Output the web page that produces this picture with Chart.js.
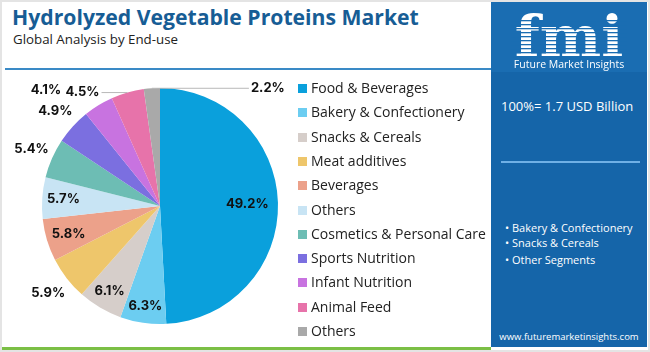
<!DOCTYPE html>
<html>
<head>
<meta charset="utf-8">
<script src="https://cdn.jsdelivr.net/npm/chart.js@4.4.1/dist/chart.umd.min.js"></script>
<style>
  body { margin: 0; background: #fff; font-family: "Open Sans", sans-serif; }
  #frame { position: relative; width: 650px; height: 352px; overflow: hidden; background: #fff; }
  #border { position: absolute; left: 0; top: 0; width: 646px; height: 348px; border: 2px solid #e4e4e4; }
  #title { position: absolute; left: 12px; top: 2px; font-size: 21.2px; font-weight: 700; color: #175d95; white-space: nowrap; }
  #subtitle { position: absolute; left: 13px; top: 30px; font-size: 13.3px; color: #222; white-space: nowrap; }
  #rule { position: absolute; left: 5px; top: 68px; width: 486px; height: 2px; background: #3a8ac6; }
  #green { position: absolute; left: 2px; top: 347px; width: 489px; height: 3px; background: #7bbf45; }
  #chartBox { position: absolute; left: 0; top: 72px; width: 320px; height: 268px; }
  #legend { position: absolute; left: 298px; top: 76px; }
  .item { position: absolute; left: 0; white-space: nowrap; font-size: 14px; color: #222; height: 24px; line-height: 24px; }
  .box { position: absolute; left: 0; top: 8px; width: 9px; height: 9px; }
  .item span.t { position: absolute; left: 13px; top: 0; }
  #panel { position: absolute; left: 491px; top: 2px; width: 156px; height: 345px; background: #1565a9; color: #fff; }
  #logo { position: absolute; left: 0; top: 0; width: 156px; height: 70px; }
  #total { position: absolute; left: 10px; top: 95px; font-size: 13px; white-space: nowrap; }
  #sep { position: absolute; left: 10px; top: 159px; width: 139px; height: 2px; background: #6fb0e6; }
  #bullets { position: absolute; left: 14px; top: 218px; font-size: 11px; line-height: 15px; white-space: nowrap; }
  #url { position: absolute; left: 0; width: 156px; top: 328px; text-align: center; font-size: 9.5px; white-space: nowrap; }
</style>
</head>
<body>
<div id="frame">
  <div id="border"></div>
  <div id="title">Hydrolyzed Vegetable Proteins Market</div>
  <div id="subtitle">Global Analysis by End-use</div>
  <div id="rule"></div>
  <div id="green"></div>
  <div id="chartBox"><canvas id="pieChart"></canvas></div>
  <div id="legend"></div>
  <div id="panel">
    <canvas id="logo" width="156" height="70"></canvas>
    <div id="total">100%= 1.7 USD Billion</div>
    <div id="sep"></div>
    <div id="bullets">
      <div>&bull; Bakery &amp; Confectionery</div>
      <div>&bull; Snacks &amp; Cereals</div>
      <div style="margin-top:2px">&bull; Other Segments</div>
    </div>
    <div id="url">www.futuremarketinsights.com</div>
  </div>
</div>
<script>
// chart data
const segments = [
  "Food & Beverages",
  "Bakery & Confectionery",
  "Snacks & Cereals",
  "Meat additives",
  "Beverages",
  "Others",
  "Cosmetics & Personal Care",
  "Sports Nutrition",
  "Infant Nutrition",
  "Animal Feed",
  "Others",
]
const shares = [49.2, 6.3, 6.1, 5.9, 5.8, 5.7, 5.4, 4.9, 4.1, 4.5, 2.2]
const colors = [
  "#0aa0dc", "#6ccdf1", "#d6ceca", "#eec66b", "#eca18a", "#c8e4f4",
  "#6dbdb4", "#7b6fe0", "#c873e0", "#e773aa", "#a9a9a9",
]

// label placement relative to each slice (radius factor, angle shift in deg, horizontal leader px)
const labelRadius = [0.74, 0.86, 0.84, 1.2, 0.81, 0.82, 1.19, 1.2, 1.38, 1.0, 1.0]
const labelShift = [0, 0, 0, 0, 0, 0, 0, 0, -13, 0, 0]
const labelLeader = [0, 0, 0, 0, 0, 0, 0, 0, 0, -45, 116]

// build the legend
const legend = document.getElementById("legend")
segments.forEach((name, i) => {
  const row = document.createElement("div")
  row.className = "item"
  row.style.top = (i * 24.3) + "px"
  row.innerHTML = '<div class="box" style="background:' + colors[i] + '"></div><span class="t"></span>'
  row.querySelector(".t").textContent = name
  legend.appendChild(row)
})

const sliceLabels = {
  id: "sliceLabels",
  afterDatasetsDraw(chart) {
    const ctx = chart.ctx
    const arcs = chart.getDatasetMeta(0).data
    ctx.save()
    ctx.font = "700 13px Inter, sans-serif"
    ctx.fillStyle = "#111"
    ctx.textAlign = "center"
    ctx.textBaseline = "middle"
    arcs.forEach((arc, i) => {
      const mid = (arc.startAngle + arc.endAngle) / 2
      const text = shares[i].toFixed(1) + "%"
      if (labelLeader[i]) {
        const ex = arc.x + Math.cos(mid) * arc.outerRadius
        const ey = arc.y + Math.sin(mid) * arc.outerRadius
        const tx = ex + labelLeader[i]
        const w = ctx.measureText(text).width
        const side = labelLeader[i] > 0 ? -1 : 1
        ctx.strokeStyle = "#b8b8b8"
        ctx.lineWidth = 1
        ctx.beginPath()
        ctx.moveTo(ex, ey)
        ctx.lineTo(tx + side * (w / 2 + 2), ey)
        ctx.stroke()
        ctx.fillText(text, tx, ey)
      } else {
        const a = mid + labelShift[i] * Math.PI / 180
        const r = arc.outerRadius * labelRadius[i]
        ctx.fillText(text, arc.x + Math.cos(a) * r, arc.y + Math.sin(a) * r)
      }
    })
    ctx.restore()
  },
}

new Chart(document.getElementById("pieChart"), {
  type: "pie",
  data: {
    labels: segments,
    datasets: [{ data: shares, backgroundColor: colors, borderWidth: 0 }],
  },
  options: {
    responsive: true,
    maintainAspectRatio: false,
    animation: false,
    layout: { padding: { top: 16, bottom: 16 } },
    plugins: { legend: { display: false }, tooltip: { enabled: false } },
  },
  plugins: [sliceLabels],
})

// logo in the side panel
const lg = document.getElementById("logo").getContext("2d")
lg.fillStyle = "#1a6db2"
lg.fillRect(0, 0, 156, 70)
lg.fillStyle = "#fff"
lg.font = "700 58px 'DejaVu Serif', serif"
lg.textAlign = "center"
lg.textBaseline = "alphabetic"
lg.fillText("fmi", 78, 55)
lg.fillStyle = "#1a6db2"
for (let y = 18; y < 58; y += 4) lg.fillRect(20, y, 116, 1.3)
lg.fillStyle = "#fff"
lg.font = "10.5px 'Open Sans', sans-serif"
lg.fillText("Future Market Insights", 78, 66)
</script>
</body>
</html>
